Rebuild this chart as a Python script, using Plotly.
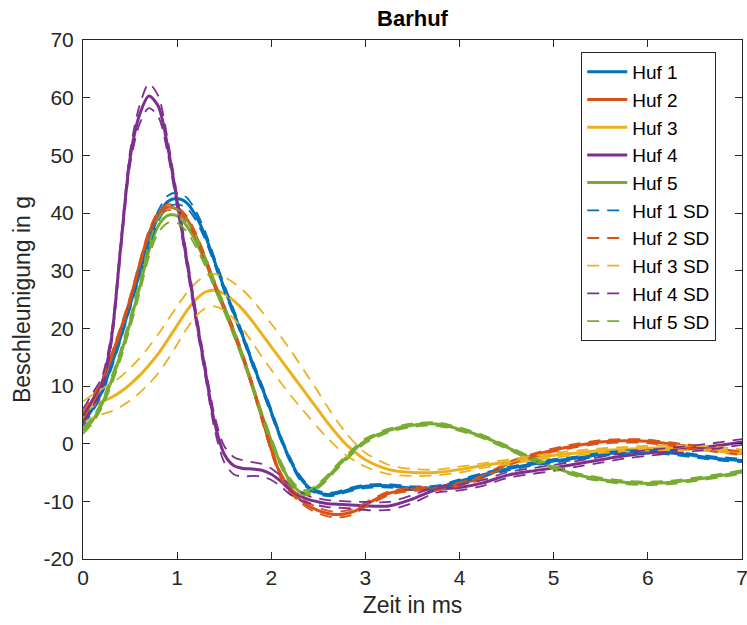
import plotly.graph_objects as go

# time grid (ms)
t = [0.0, 0.1, 0.2, 0.3, 0.4, 0.5, 0.6, 0.7, 0.8, 0.9, 1.0, 1.1, 1.2, 1.3, 1.4, 1.5,
     1.6, 1.7, 1.8, 1.9, 2.0, 2.1, 2.2, 2.3, 2.4, 2.5, 2.6, 2.7, 2.8, 2.9, 3.0,
     3.25, 3.5, 3.75, 4.0, 4.25, 4.5, 4.75, 5.0, 5.25, 5.5, 5.75, 6.0, 6.25, 6.5, 6.75, 7.0]

huf1 = [3.5, 6.0, 9.0, 13.5, 18.5, 24, 29.5, 35, 39.5, 42, 42.5, 41.8, 39.5, 36, 31.5, 27,
        22.8, 18.5, 14, 9.8, 5.5, 1.0, -2.8, -5.8, -7.6, -8.5, -8.8, -8.6, -8.1, -7.7, -7.4,
        -7.3, -7.7, -7.6, -6.5, -5.4, -4.4, -3.6, -3.0, -2.5, -1.9, -1.5, -1.4, -1.6, -2.1, -2.6, -2.9]
huf2 = [4.8, 7.5, 10.5, 15, 19.8, 25, 31, 36.5, 39.8, 41, 40.6, 39, 36, 32, 27.5, 23.5,
        19.5, 15, 10, 4.5, -1, -5.5, -8, -9.6, -10.8, -11.6, -12.1, -12.3, -12.1, -11.6, -10.6,
        -8.6, -7.9, -7.8, -7.0, -5.8, -3.6, -2.2, -1.1, -0.3, 0.3, 0.5, 0.4, -0.1, -0.6, -1.2, -1.7]
huf3 = [5.5, 6.5, 7.3, 8.0, 9.0, 10.3, 11.8, 13.6, 15.6, 18.0, 20.5, 23, 25, 26.3, 26.6, 26,
        24.8, 23.2, 21.2, 19.0, 16.8, 14.6, 12.4, 10.2, 8.0, 5.8, 3.6, 1.6, -0.2, -1.6, -2.8,
        -4.5, -5.0, -5.0, -4.5, -3.8, -3.2, -2.6, -2.0, -1.6, -1.2, -1.0, -0.8, -0.7, -0.8, -1.0, -1.4]
huf4 = [4.8, 7.5, 10.5, 18, 34, 49.5, 57, 60.3, 58.5, 51.5, 42, 32, 22, 12.5, 3.5, -1.8,
        -3.8, -4.3, -4.4, -4.6, -5.3, -6.5, -8.0, -9.0, -9.7, -10.1, -10.4, -10.5, -10.6, -10.7, -10.8,
        -10.8, -9.6, -8.0, -7.6, -6.8, -5.5, -4.8, -4.2, -3.5, -2.8, -2.1, -1.6, -1.2, -0.8, -0.3, 0.3]
huf5 = [2.2, 4.0, 6.8, 10.8, 15.5, 21, 27, 33.5, 37.8, 39.6, 39.5, 37.8, 35, 31.5, 27.5, 23.5,
        19.3, 14.8, 10, 5, 0.5, -3.5, -6.5, -8.3, -8.4, -7.3, -5.8, -4.0, -2.4, -0.8, 0.5,
        2.3, 3.2, 3.4, 2.5, 1.2, -0.6, -2.5, -4.1, -5.4, -6.2, -6.7, -6.9, -6.7, -6.2, -5.6, -4.9]

sd1 = [0.5, 0.5, 0.5, 0.6, 0.6, 0.6, 0.7, 0.8, 0.9, 1.0, 1.0, 0.9, 0.8, 0.7, 0.6, 0.6,
       0.5, 0.5, 0.5, 0.5, 0.5, 0.4, 0.4, 0.4, 0.3, 0.3, 0.3, 0.3, 0.3, 0.3, 0.3,
       0.3, 0.3, 0.3, 0.3, 0.3, 0.3, 0.3, 0.3, 0.3, 0.3, 0.3, 0.3, 0.3, 0.3, 0.3, 0.3]
sd2 = [0.6, 0.6, 0.5, 0.5, 0.5, 0.5, 0.5, 0.5, 0.5, 0.5, 0.5, 0.5, 0.5, 0.5, 0.5, 0.5,
       0.5, 0.5, 0.5, 0.5, 0.5, 0.5, 0.5, 0.5, 0.5, 0.5, 0.5, 0.5, 0.5, 0.4, 0.4,
       0.3, 0.3, 0.3, 0.3, 0.3, 0.3, 0.3, 0.3, 0.3, 0.3, 0.3, 0.3, 0.3, 0.3, 0.3, 0.3]
sd3 = [1.8, 2.0, 2.2, 2.4, 2.6, 2.8, 3.0, 3.2, 3.4, 3.4, 3.3, 3.1, 2.9, 2.8, 2.8, 2.9,
       3.1, 3.4, 3.7, 3.9, 4.0, 4.0, 3.9, 3.7, 3.4, 3.1, 2.7, 2.3, 1.9, 1.5, 1.2,
       0.8, 0.6, 0.5, 0.5, 0.4, 0.4, 0.4, 0.4, 0.4, 0.4, 0.4, 0.4, 0.4, 0.4, 0.4, 0.4]
sd4 = [1.2, 1.2, 1.0, 1.0, 1.0, 1.2, 1.6, 2.1, 1.8, 1.2, 1.0, 1.0, 1.0, 1.0, 1.2, 1.4,
       1.5, 1.4, 1.2, 1.1, 1.0, 0.9, 0.8, 0.7, 0.6, 0.6, 0.6, 0.6, 0.6, 0.6, 0.7,
       0.7, 0.7, 0.5, 0.5, 0.5, 0.5, 0.5, 0.5, 0.5, 0.5, 0.5, 0.5, 0.5, 0.5, 0.5, 0.5]
sd5 = [0.5, 0.5, 0.6, 0.7, 0.8, 0.9, 1.0, 1.1, 1.2, 1.3, 1.2, 1.0, 0.9, 0.8, 0.7, 0.6,
       0.6, 0.5, 0.5, 0.5, 0.5, 0.5, 0.5, 0.5, 0.4, 0.4, 0.4, 0.4, 0.4, 0.4, 0.4,
       0.3, 0.3, 0.3, 0.3, 0.3, 0.3, 0.3, 0.3, 0.3, 0.3, 0.3, 0.3, 0.3, 0.3, 0.3, 0.3]

names = ["Huf 1", "Huf 2", "Huf 3", "Huf 4", "Huf 5"]
means = [huf1, huf2, huf3, huf4, huf5]
sds = [sd1, sd2, sd3, sd4, sd5]
colors = ["#0072BD", "#D95319", "#EDB120", "#7E2F8E", "#77AC30"]

x_ticks = [0, 1, 2, 3, 4, 5, 6, 7]
x_ticklabels = ["0", "1", "2", "3", "4", "5", "6", "7"]
y_ticks = [-20, -10, 0, 10, 20, 30, 40, 50, 60, 70]
y_ticklabels = ["-20", "-10", "0", "10", "20", "30", "40", "50", "60", "70"]

FONT = "Liberation Sans, Arial, Helvetica, sans-serif"
DASH = "12px,8px"

fig = go.Figure()
for n, m, c in zip(names, means, colors):
    fig.add_trace(go.Scatter(x=t, y=m, mode="lines", name=n,
                             line=dict(color=c, width=3, shape="spline", smoothing=0.8)))
for n, m, s, c in zip(names, means, sds, colors):
    up = [a + b for a, b in zip(m, s)]
    lo = [a - b for a, b in zip(m, s)]
    fig.add_trace(go.Scatter(x=t, y=up, mode="lines", name=n + " SD", legendgroup=n + "sd",
                             line=dict(color=c, width=1.8, dash=DASH, shape="spline", smoothing=0.8)))
    fig.add_trace(go.Scatter(x=t, y=lo, mode="lines", name=n + " SD", legendgroup=n + "sd",
                             showlegend=False,
                             line=dict(color=c, width=1.8, dash=DASH, shape="spline", smoothing=0.8)))

axis_common = dict(showline=True, linecolor="#262626", linewidth=1, mirror="allticks",
                   ticks="inside", ticklen=7, tickcolor="#262626", showgrid=False, zeroline=False,
                   ticklabeloverflow="allow", automargin=False,
                   tickfont=dict(family=FONT, size=21, color="#262626"))

fig.update_layout(
    width=747, height=625,
    margin=dict(l=83, r=5, t=40, b=66),
    paper_bgcolor="white", plot_bgcolor="white",
    font=dict(family=FONT, color="#262626"),
    title=dict(text="<b>Barhuf</b>", x=0.5, xref="paper", y=1 - 18 / 625, yref="container",
               xanchor="center", yanchor="middle", font=dict(family=FONT, size=22, color="black")),
    xaxis=dict(range=[0, 7], tickmode="array", tickvals=x_ticks, ticktext=x_ticklabels,
               title=dict(text="Zeit in ms", font=dict(family=FONT, size=23, color="#262626"), standoff=8),
               **axis_common),
    yaxis=dict(range=[-20, 70], tickmode="array", tickvals=y_ticks, ticktext=y_ticklabels,
               ticklabelstandoff=4,
               title=dict(text="Beschleunigung in g", font=dict(family=FONT, size=23, color="#262626"), standoff=6),
               **axis_common),
    legend=dict(x=0.756, y=0.977, xanchor="left", yanchor="top",
                bgcolor="white", bordercolor="#262626", borderwidth=1,
                font=dict(family=FONT, size=19, color="black"),
                itemwidth=40, tracegroupgap=0),
    showlegend=True,
)

fig.write_html("out.html")
